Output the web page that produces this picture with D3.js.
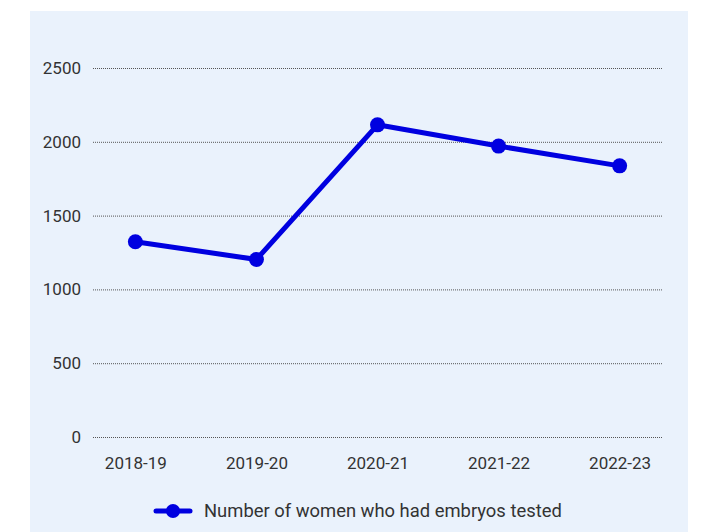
<!DOCTYPE html>
<html><head><meta charset="utf-8">
<script src="https://cdn.jsdelivr.net/npm/d3@7"></script>
<style>body{margin:0;background:#fff;font-family:Roboto,"Noto Sans",sans-serif;}</style>
</head><body>
<svg id="c" width="702" height="532"></svg>
<script>
const categories = ["2018-19","2019-20","2020-21","2021-22","2022-23"];
const values = [1323, 1203, 2115, 1971, 1837];
const yTicks = [0, 500, 1000, 1500, 2000, 2500];
const seriesName = "Number of women who had embryos tested";

const svg = d3.select("#c");
svg.append("rect").attr("x",30).attr("y",11).attr("width",658).attr("height",530).attr("fill","#eaf2fc");

const x = d3.scalePoint().domain(categories).range([93,662]).padding(0.35);
const y = d3.scaleLinear().domain([0,2500]).range([437,68]);

const yAxis = svg.append("g").attr("transform","translate(93,0)")
  .call(d3.axisLeft(y).tickValues(yTicks).tickSize(-569).tickPadding(12).tickFormat(d3.format("d")));
yAxis.select(".domain").remove();
yAxis.selectAll(".tick line").attr("stroke","#555").attr("stroke-dasharray","1,1").attr("stroke-width",1);
yAxis.selectAll(".tick text").attr("fill","#333").style("font-size","17px").style("font-family","Roboto");

const xAxis = svg.append("g").attr("transform","translate(0,437)")
  .call(d3.axisBottom(x).tickSize(0).tickPadding(20));
xAxis.select(".domain").remove();
xAxis.selectAll(".tick text").attr("fill","#333").style("font-size","17px").style("font-family","Roboto");

const blue = "#0000e0";
const data = categories.map((c,i)=>({c, v: values[i]}));
svg.append("path").datum(data)
  .attr("fill","none").attr("stroke",blue).attr("stroke-width",5).attr("stroke-linejoin","round")
  .attr("d", d3.line().x(d=>x(d.c)).y(d=>y(d.v)));
svg.selectAll("circle.pt").data(data).join("circle").attr("class","pt")
  .attr("cx",d=>x(d.c)).attr("cy",d=>y(d.v)).attr("r",7.5).attr("fill",blue);

const lg = svg.append("g").attr("transform","translate(0,511)");
lg.append("line").attr("x1",156).attr("x2",190).attr("y1",0).attr("y2",0).attr("stroke",blue).attr("stroke-width",5).attr("stroke-linecap","round");
lg.append("circle").attr("cx",173).attr("cy",0).attr("r",7).attr("fill",blue);
lg.append("text").attr("x",204).attr("y",0).attr("dy","0.35em").attr("fill","#333")
  .style("font-size","18.4px").style("font-family","Roboto").text(seriesName);
</script>
</body></html>
